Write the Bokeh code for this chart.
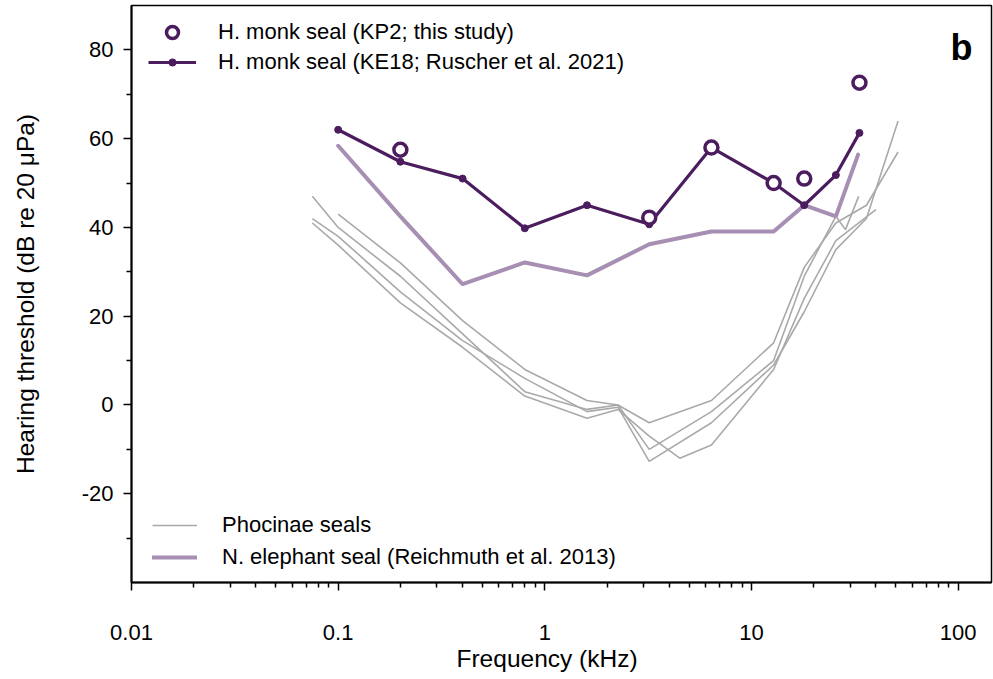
import math
from bokeh.plotting import figure
from bokeh.models import Range1d, FixedTicker, Legend, LegendItem, Label, Title, LinearAxis
from bokeh.embed import file_html
from bokeh.resources import INLINE

FONT = "Liberation Sans"
DARK = "#4b1c5e"
LIGHT = "#a68fb2"
GREY = "#a9a9a9"

# Hawaiian monk seal KE18 (Ruscher et al. 2021)
ke18_freq = [0.1, 0.2, 0.4, 0.8, 1.6, 3.2, 6.4, 12.8, 18, 25.6, 33.3]
ke18_thr = [62, 54.8, 51, 39.8, 45, 40.7, 58, 50, 45, 51.8, 61.3]

# Hawaiian monk seal KP2 (this study)
kp2_freq = [0.2, 3.2, 6.4, 12.8, 18, 33.3]
kp2_thr = [57.5, 42.2, 58, 50, 51, 72.6]

# Northern elephant seal (Reichmuth et al. 2013)
ele_freq = [0.1, 0.2, 0.4, 0.8, 1.6, 3.2, 6.4, 12.8, 18, 25.6, 32.8]
ele_thr = [58.4, 42.5, 27.2, 32.1, 29.2, 36.2, 39.1, 39.1, 45, 42.5, 56.4]

# Phocinae seals
pho1_freq = [0.1, 0.2, 0.4, 0.8, 1.6, 2.26, 3.2, 6.4, 12.8, 18, 25.6, 36, 51.2]
pho1_thr = [43, 32, 19, 8, 1, 0, -4, 1, 14, 31, 41, 45, 57]
pho2_freq = [0.075, 0.1, 0.2, 0.4, 0.8, 1.6, 2.26, 3.2, 6.4, 12.8, 18, 25.6, 28.5, 33]
pho2_thr = [47, 40, 29, 16, 3, -1, 0, -10, -1.5, 10, 29, 42.5, 39.5, 47]
pho3_freq = [0.075, 0.1, 0.2, 0.4, 0.8, 1.6, 2.26, 3.2, 6.4, 12.8, 18, 25.6, 36, 51.2]
pho3_thr = [42, 38, 25.5, 14.5, 6, -1.5, -0.5, -12.7, -4, 9, 21, 35, 42, 64]
pho4_freq = [0.075, 0.1, 0.2, 0.4, 0.8, 1.6, 2.26, 3.2, 4.5, 6.4, 12.8, 18, 25.6, 40]
pho4_thr = [41, 36, 23, 13, 2, -3, -1, -7, -12, -9, 8, 24, 37, 44]

x_major = [0.01, 0.1, 1, 10, 100]
x_labels = ["0.01", "0.1", "1", "10", "100"]
y_major = [-20, 0, 20, 40, 60, 80]
y_minor = [-30, -10, 10, 30, 50, 70]

p = figure(width=993, height=679, x_axis_type="log",
           x_range=Range1d(0.01, 145), y_range=Range1d(-40, 90),
           output_backend="svg", toolbar_location=None,
           min_border_left=131, min_border_right=2,
           min_border_top=5, min_border_bottom=97)
p.grid.visible = False
p.outline_line_color = "black"
p.outline_line_width = 1.5
p.background_fill_color = "white"
p.border_fill_color = "white"

# axes
xa = p.xaxis[0]
xa.ticker = FixedTicker(ticks=x_major, minor_ticks=[m * d for d in [0.01, 0.1, 1, 10] for m in range(2, 10)])
xa.major_label_overrides = {v: s for v, s in zip(x_major, x_labels)}
ya = p.yaxis[0]
ya.ticker = FixedTicker(ticks=y_major, minor_ticks=y_minor)
ya.major_label_overrides = {v: str(v) for v in y_major}
for ax in (xa, ya):
    ax.axis_line_width = 2
    ax.axis_line_color = "black"
    ax.major_tick_line_width = 1.5
    ax.minor_tick_line_width = 1.5
    ax.major_tick_out = 8
    ax.major_tick_in = 0
    ax.minor_tick_out = 5
    ax.minor_tick_in = 0
    ax.major_label_text_font = FONT
    ax.major_label_text_font_size = "22px"
    ax.major_label_text_color = "black"
xa.major_label_standoff = 34
ya.major_label_standoff = 10

# y title carried by a bare outer axis, so its centre can sit slightly low
title_axis = LinearAxis(ticker=FixedTicker(ticks=[]), bounds=(-40, 87),
                        axis_line_color=None, major_tick_out=0, minor_tick_out=0,
                        major_tick_in=0, minor_tick_in=0,
                        major_label_text_font_size="0px", major_label_standoff=0,
                        axis_label="Hearing threshold (dB re 20 μPa)",
                        axis_label_text_font=FONT, axis_label_text_font_size="24.5px",
                        axis_label_text_font_style="normal",
                        axis_label_text_color="black", axis_label_standoff=40)
p.add_layout(title_axis, "left")

p.add_layout(Title(text="Frequency (kHz)", align="left", offset=325,
                   text_font=FONT, text_font_size="24.5px",
                   text_font_style="normal", text_color="black",
                   standoff=1), "below")

# Phocinae curves
grey_renderers = []
for fq, th in [(pho1_freq, pho1_thr), (pho2_freq, pho2_thr),
               (pho3_freq, pho3_thr), (pho4_freq, pho4_thr)]:
    grey_renderers.append(p.line(fq, th, line_color=GREY, line_width=1.6))

ele = p.line(ele_freq, ele_thr, line_color=LIGHT, line_width=4, line_cap="round")

ke_line = p.line(ke18_freq, ke18_thr, line_color=DARK, line_width=3.2)
ke_dots = p.scatter(ke18_freq, ke18_thr, size=7, marker="circle",
                    fill_color=DARK, line_color=DARK)
kp2 = p.scatter(kp2_freq, kp2_thr, size=13, marker="circle",
                fill_color="white", line_color=DARK, line_width=3.5)

def make_legend(items, loc, gw, gh, lh, standoff):
    lg = Legend(items=items, location=loc, orientation="vertical",
                glyph_width=gw, glyph_height=gh, label_height=lh,
                label_standoff=standoff, spacing=0, padding=0, margin=0,
                border_line_color=None, background_fill_alpha=0,
                label_text_font=FONT, label_text_font_size="22px",
                label_text_color="black")
    p.add_layout(lg, "center")

make_legend([LegendItem(label="H. monk seal (KP2; this study)", renderers=[kp2])],
            (17, 535), 48, 30, 30, 22)
make_legend([LegendItem(label="H. monk seal (KE18; Ruscher et al. 2021)", renderers=[ke_line, ke_dots])],
            (17, 507), 48, 18, 26, 22)
make_legend([LegendItem(label="Phocinae seals", renderers=[grey_renderers[0]]),
             LegendItem(label="N. elephant seal (Reichmuth et al. 2013)", renderers=[ele])],
            (21, 9), 45, 32, 32, 25)

# panel letter
p.add_layout(Label(x=961 - 131, y=582 - 47, x_units="screen", y_units="screen",
                   text="b", text_font=FONT, text_font_size="36px",
                   text_font_style="bold", text_color="black",
                   text_align="center", text_baseline="middle"))

open("out.html", "w").write(file_html(p, INLINE))
